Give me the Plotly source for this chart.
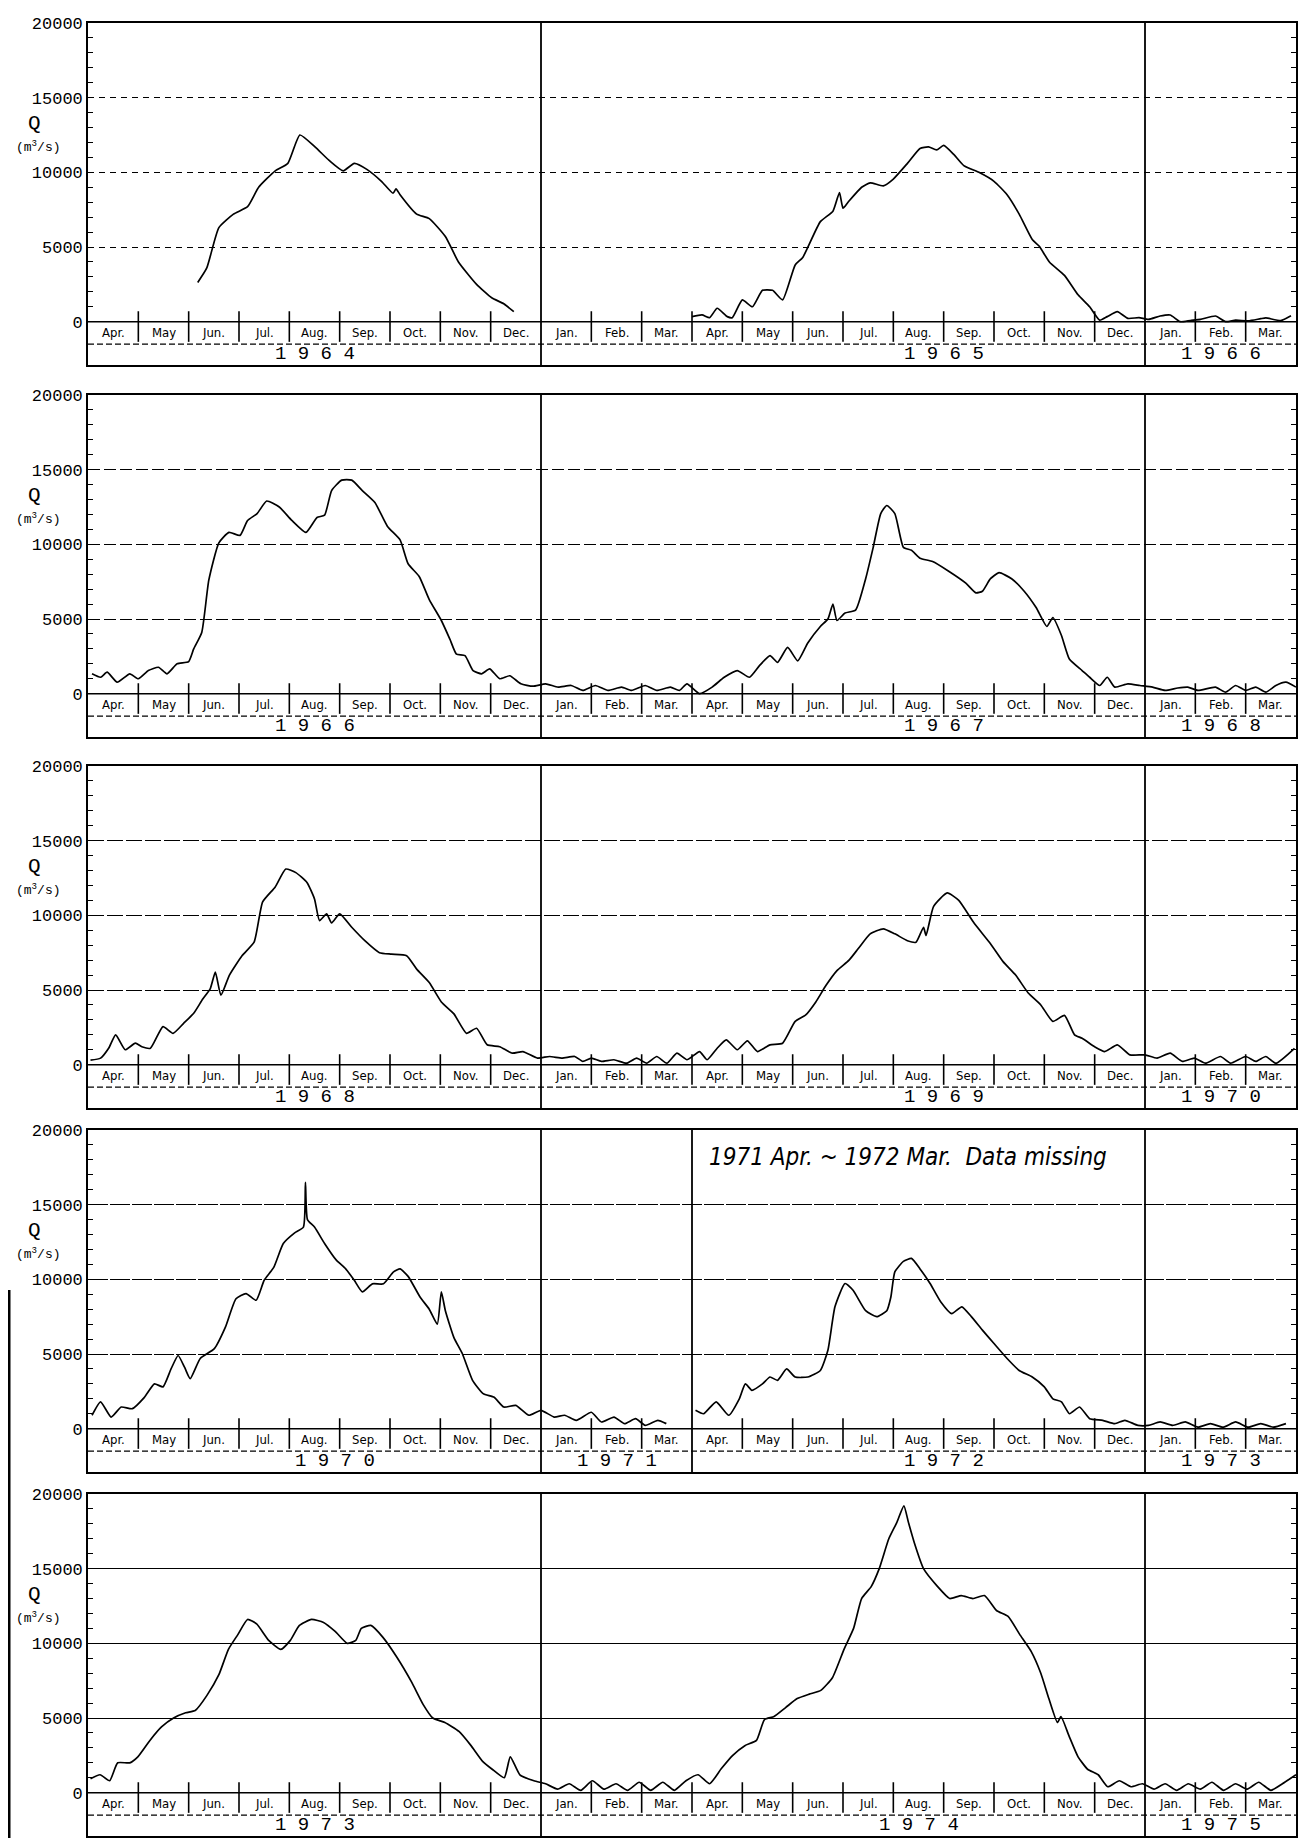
import plotly.graph_objects as go

# ---------------- DATA (month index counted from 1 April of the panel's first year) ----------------
MONTH_NAMES = ["Apr.", "May", "Jun.", "Jul.", "Aug.", "Sep.", "Oct.", "Nov.", "Dec.", "Jan.", "Feb.", "Mar."]

# Panel 1 : 1964 - 1966
p1a_month = [2.18, 2.36, 2.6, 2.89, 3.17, 3.39, 3.72, 3.97, 4.21, 4.51, 4.79, 5.07, 5.29, 5.54, 5.83,
             6.06, 6.12, 6.2, 6.53, 6.78, 7.1, 7.36, 7.72, 8.02, 8.26, 8.46]
p1a_q = [2630, 3600, 6300, 7200, 7700, 9000, 10100, 10600, 12500, 11700, 10800, 10100, 10600, 10200, 9400,
         8600, 8900, 8500, 7200, 6900, 5700, 4000, 2500, 1600, 1200, 670]
p1b_month = [12.0, 12.2, 12.35, 12.5, 12.7, 12.8, 13.0, 13.2, 13.4, 13.6, 13.8, 14.05, 14.2, 14.55, 14.8,
             14.93, 15.0, 15.1, 15.37, 15.54, 15.8, 16.0, 16.28, 16.53, 16.7, 16.86, 17.0, 17.2, 17.4, 17.7,
             18.0, 18.26, 18.5, 18.76, 18.9, 19.1, 19.4, 19.67, 19.9, 20.1, 20.25, 20.45, 20.66, 20.88,
             21.07, 21.3, 21.5, 21.7, 21.9, 22.1, 22.4, 22.6, 22.8, 23.05, 23.3, 23.4, 23.7, 23.9]
p1b_q = [340, 450, 270, 900, 340, 270, 1460, 1000, 2100, 2100, 1460, 3800, 4300, 6700, 7400,
         8650, 7600, 8000, 9000, 9300, 9100, 9550, 10600, 11600, 11700, 11500, 11800, 11200, 10450, 10000,
         9400, 8500, 7200, 5500, 5050, 4000, 3100, 1800, 1000, 100, 340, 670, 220, 270,
         150, 380, 450, 0, 80, 150, 380, 0, 100, 60, 200, 250, 80, 400]

# Panel 2 : 1966 - 1968
p2_month = [0.08, 0.25, 0.38, 0.58, 0.83, 1.0, 1.2, 1.4, 1.57, 1.77, 2.0, 2.1, 2.26, 2.4, 2.6, 2.8, 3.02,
            3.17, 3.36, 3.55, 3.8, 4.05, 4.33, 4.55, 4.7, 4.84, 5.04, 5.24, 5.45, 5.7, 5.95, 6.2, 6.36,
            6.58, 6.78, 7.02, 7.19, 7.32, 7.49, 7.65, 7.82, 7.98, 8.18, 8.38, 8.6, 8.84, 9.09, 9.34, 9.6,
            9.83, 10.08, 10.33, 10.6, 10.8, 11.07, 11.3, 11.57, 11.75, 11.9, 12.15, 12.4, 12.64, 12.9,
            13.14, 13.34, 13.55, 13.7, 13.9, 14.1, 14.3, 14.55, 14.7, 14.8, 14.88, 15.04, 15.25, 15.45,
            15.6, 15.75, 15.87, 16.03, 16.2, 16.36, 16.53, 16.78, 17.1, 17.44, 17.64, 17.77, 17.93, 18.1,
            18.35, 18.6, 18.84, 19.05, 19.17, 19.34, 19.5, 19.75, 19.9, 20.1, 20.25, 20.4, 20.66, 20.9,
            21.15, 21.4, 21.65, 21.85, 22.05, 22.4, 22.6, 22.8, 23.0, 23.2, 23.4, 23.6, 23.8, 24.0]
p2_q = [1330, 1100, 1440, 770, 1330, 1000, 1550, 1770, 1330, 2000, 2150, 3000, 4100, 7600, 10100, 10800, 10600,
        11600, 12060, 12900, 12500, 11600, 10800, 11800, 11950, 13600, 14300, 14300, 13600, 12800, 11200, 10300, 8700,
        7850, 6300, 4900, 3650, 2650, 2550, 1550, 1330, 1660, 1000, 1200, 660, 500, 660, 440, 550,
        220, 550, 220, 440, 220, 550, 220, 440, 220, 660, 0, 440, 1100, 1550,
        1100, 1880, 2550, 2100, 3100, 2200, 3400, 4500, 5000, 6000, 4900, 5400, 5600, 7700,
        9800, 12060, 12600, 12060, 9800, 9600, 9070, 8850, 8200, 7400, 6750, 6860, 7700, 8100,
        7700, 6860, 5750, 4500, 5100, 3900, 2300, 1550, 1100, 550, 1100, 440, 660, 550,
        440, 220, 380, 440, 220, 440, 100, 550, 220, 440, 100, 550, 770, 440]

# Panel 3 : 1968 - 1970
p3_month = [0.05, 0.25, 0.41, 0.55, 0.74, 0.94, 1.07, 1.24, 1.49, 1.69, 1.9, 2.1, 2.28, 2.43, 2.53, 2.64,
            2.81, 3.06, 3.3, 3.47, 3.72, 3.93, 4.13, 4.35, 4.5, 4.6, 4.74, 4.84, 5.0, 5.24, 5.5, 5.79,
            6.03, 6.33, 6.53, 6.78, 7.02, 7.27, 7.52, 7.72, 7.93, 8.18, 8.43, 8.64, 8.93, 9.17, 9.42,
            9.67, 9.83, 10.0, 10.2, 10.45, 10.7, 10.9, 11.1, 11.3, 11.5, 11.7, 11.9, 12.15, 12.3, 12.5,
            12.68, 12.9, 13.1, 13.3, 13.55, 13.8, 14.05, 14.26, 14.46, 14.66, 14.88, 15.12, 15.3, 15.54,
            15.8, 16.03, 16.28, 16.45, 16.6, 16.65, 16.8, 17.07, 17.3, 17.6, 17.93, 18.18, 18.43, 18.68,
            18.93, 19.17, 19.4, 19.6, 19.75, 20.0, 20.2, 20.45, 20.7, 21.0, 21.24, 21.5, 21.74, 21.98,
            22.2, 22.5, 22.7, 23.0, 23.2, 23.4, 23.6, 23.97]
p3_q = [300, 440, 1100, 2000, 1000, 1440, 1200, 1100, 2550, 2100, 2770, 3440, 4400, 5100, 6200, 4650,
        6000, 7300, 8200, 10900, 11900, 13100, 12860, 12200, 11100, 9650, 10100, 9500, 10100, 9200, 8300, 7500,
        7400, 7300, 6400, 5500, 4200, 3400, 2100, 2440, 1330, 1200, 770, 880, 440, 550, 440,
        550, 220, 440, 220, 330, 100, 440, 100, 550, 100, 770, 330, 880, 330, 1100,
        1660, 1000, 1600, 880, 1330, 1440, 2900, 3330, 4200, 5300, 6300, 7000, 7760, 8760,
        9100, 8760, 8300, 8200, 9200, 8650, 10600, 11500, 11000, 9500, 8100, 6900, 6000, 4800,
        4000, 2900, 3300, 2000, 1770, 1200, 880, 1330, 660, 660, 440, 770, 220, 440,
        100, 550, 100, 550, 220, 550, 100, 1100]

# Panel 4 : 1970 - 1971 and 1972 - 1973 (1971 Apr. - 1972 Mar. missing)
p4a_month = [0.08, 0.25, 0.46, 0.66, 0.88, 1.12, 1.32, 1.49, 1.65, 1.79, 1.92, 2.03, 2.23, 2.51, 2.73, 2.94,
             3.14, 3.34, 3.5, 3.69, 3.88, 4.1, 4.28, 4.32, 4.36, 4.5, 4.7, 4.93, 5.12, 5.29, 5.45, 5.65,
             5.87, 6.07, 6.2, 6.36, 6.6, 6.78, 6.94, 7.02, 7.1, 7.27, 7.44, 7.64, 7.85, 8.07, 8.26, 8.5,
             8.76, 9.0, 9.26, 9.47, 9.7, 10.0, 10.2, 10.45, 10.66, 10.88, 11.07, 11.32, 11.49]
p4a_q = [900, 1800, 780, 1450, 1340, 2100, 3000, 2800, 4000, 4900, 4100, 3350, 4700, 5360, 6800, 8700,
         9050, 8600, 9940, 10800, 12400, 13100, 13500, 16500, 14000, 13500, 12400, 11300, 10700, 9940, 9160, 9700,
         9700, 10500, 10700, 10200, 8800, 8000, 7000, 9160, 7900, 6100, 5000, 3240, 2350, 2100, 1450, 1560,
         900, 1230, 780, 900, 560, 1100, 450, 780, 340, 670, 220, 560, 340]
p4b_month = [12.07, 12.23, 12.48, 12.73, 12.94, 13.06, 13.19, 13.4, 13.55, 13.7, 13.88, 14.05, 14.3, 14.55,
             14.7, 14.84, 15.04, 15.2, 15.45, 15.67, 15.87, 15.95, 16.03, 16.2, 16.36, 16.53, 16.73, 16.94,
             17.16, 17.36, 17.55, 17.77, 18.0, 18.26, 18.5, 18.76, 19.0, 19.17, 19.34, 19.5, 19.7, 19.9,
             20.16, 20.4, 20.6, 20.86, 21.07, 21.3, 21.55, 21.8, 22.05, 22.3, 22.55, 22.8, 23.05, 23.3,
             23.55, 23.8]
p4b_q = [1230, 1000, 1800, 900, 2000, 3000, 2570, 3000, 3460, 3240, 4000, 3460, 3460, 3900,
         5250, 8160, 9720, 9270, 7900, 7500, 7900, 8800, 10500, 11200, 11400, 10700, 9720, 8500,
         7700, 8160, 7500, 6600, 5700, 4700, 3900, 3460, 2800, 2000, 1800, 1000, 1450, 670,
         560, 340, 560, 220, 220, 450, 220, 450, 100, 340, 100, 450, 100, 340,
         100, 340]

# Panel 5 : 1973 - 1975
p5_month = [0.05, 0.24, 0.43, 0.59, 0.83, 0.99, 1.23, 1.46, 1.7, 1.94, 2.13, 2.36, 2.6, 2.79, 2.98, 3.17,
            3.35, 3.59, 3.83, 4.02, 4.2, 4.44, 4.68, 4.91, 5.15, 5.32, 5.43, 5.62, 5.86, 6.14, 6.43, 6.66,
            6.85, 7.09, 7.37, 7.61, 7.84, 8.03, 8.27, 8.39, 8.58, 8.86, 9.09, 9.33, 9.56, 9.79, 10.02,
            10.25, 10.49, 10.72, 10.95, 11.18, 11.42, 11.65, 11.88, 12.12, 12.35, 12.58, 12.81, 13.05,
            13.28, 13.44, 13.63, 13.86, 14.09, 14.33, 14.56, 14.79, 15.02, 15.21, 15.37, 15.56, 15.72,
            15.91, 16.07, 16.21, 16.3, 16.42, 16.6, 16.88, 17.12, 17.35, 17.58, 17.81, 18.05, 18.28,
            18.51, 18.74, 18.93, 19.09, 19.26, 19.33, 19.49, 19.67, 19.86, 20.07, 20.26, 20.49, 20.72,
            20.95, 21.18, 21.4, 21.63, 21.86, 22.1, 22.33, 22.56, 22.8, 23.03, 23.26, 23.5, 23.73, 24.0]
p5_q = [940, 1200, 800, 2000, 2000, 2400, 3500, 4400, 5000, 5350, 5500, 6500, 7900, 9600, 10600, 11600,
        11300, 10200, 9600, 10200, 11200, 11600, 11400, 10800, 10000, 10200, 11000, 11200, 10400, 9050, 7400, 5900,
        5000, 4700, 4100, 3150, 2100, 1570, 1000, 2400, 1200, 800, 600, 240, 600, 160, 800,
        240, 600, 160, 700, 160, 700, 160, 800, 1200, 600, 1600, 2500, 3150,
        3500, 4900, 5100, 5700, 6300, 6600, 6850, 7700, 9600, 11000, 13000, 13800, 15000,
        17000, 18100, 19200, 18100, 16700, 15000, 13800, 13000, 13200, 13000, 13200, 12200, 11800,
        10600, 9450, 8000, 6300, 4700, 5100, 3800, 2400, 1570, 1200, 400, 800, 400,
        600, 240, 600, 160, 600, 240, 700, 160, 600, 240, 700, 160, 600, 1200]

PANEL_SERIES = [
    [(p1a_month, p1a_q), (p1b_month, p1b_q)],
    [(p2_month, p2_q)],
    [(p3_month, p3_q)],
    [(p4a_month, p4a_q), (p4b_month, p4b_q)],
    [(p5_month, p5_q)],
]
PANEL_YEARS = [
    [("1964", 4.5), ("1965", 17.0), ("1966", 22.5)],
    [("1966", 4.5), ("1967", 17.0), ("1968", 22.5)],
    [("1968", 4.5), ("1969", 17.0), ("1970", 22.5)],
    [("1970", 4.9), ("1971", 10.5), ("1972", 17.0), ("1973", 22.5)],
    [("1973", 4.5), ("1974", 16.5), ("1975", 22.5)],
]
PANEL_DIVIDERS = [[9, 21], [9, 21], [9, 21], [9, 12, 21], [9, 21]]
PANEL_GRIDDASH = ["6px,5px", "12px,4px", "16px,3px", "20px,2px", "solid"]
Y_TICKS = [0, 5000, 10000, 15000, 20000]

# ---------------- LAYOUT ----------------
# the page body adds an 8 px offset, so the figure is 8 px smaller than the window
FIG_W, FIG_H = 1298, 1830
ML, MR, MT, MB = 80, 10, 15, 2
PANEL_TOP_PX = [15, 387, 758, 1122, 1486]
PANEL_H_PX = 342
Y_MIN, Y_MAX = -2900, 20000
ROW_LINE = -1500
plot_w = FIG_W - ML - MR
plot_h = FIG_H - MT - MB

TICK_FONT = dict(family="Liberation Mono, DejaVu Sans Mono, monospace", size=17, color="black")
MONTH_FONT = dict(family="Liberation Sans Narrow, DejaVu Sans Condensed, Liberation Sans, sans-serif",
                  size=13, color="black")
YEAR_FONT = dict(family="Liberation Mono, DejaVu Sans Mono, monospace", size=19, color="black")
LABEL_FONT_Q = dict(family="Liberation Mono, DejaVu Sans Mono, monospace", size=21, color="black")
LABEL_FONT_U = dict(family="Liberation Mono, DejaVu Sans Mono, monospace", size=13, color="black")

fig = go.Figure()
shapes = []
annotations = []

for i in range(5):
    n = i + 1
    xa = "x" if n == 1 else f"x{n}"
    ya = "y" if n == 1 else f"y{n}"
    top = PANEL_TOP_PX[i]
    d1 = min(1.0, 1 - (top - MT) / plot_h)
    d0 = max(0.0, 1 - (top + PANEL_H_PX - MT) / plot_h)

    for mx, q in PANEL_SERIES[i]:
        fig.add_trace(go.Scatter(x=mx, y=q, mode="lines", xaxis=xa, yaxis=ya,
                                 line=dict(color="black", width=1.7, shape="spline", smoothing=0.5),
                                 showlegend=False, hoverinfo="skip"))

    fig.layout[f"xaxis{'' if n == 1 else n}"] = dict(
        domain=[0, 1], range=[0, 24], anchor=ya, showgrid=False, zeroline=False,
        showticklabels=False, ticks="", showline=True, mirror=True,
        linecolor="black", linewidth=1.6, fixedrange=True)
    fig.layout[f"yaxis{'' if n == 1 else n}"] = dict(
        domain=[d0, d1], range=[Y_MIN, Y_MAX], anchor=xa,
        tickmode="array", tickvals=Y_TICKS, ticktext=[str(v) for v in Y_TICKS],
        tickfont=TICK_FONT, ticks="inside", ticklen=5, tickcolor="black",
        showgrid=True, gridcolor="black", gridwidth=1, griddash=PANEL_GRIDDASH[i],
        zeroline=False, showline=True, mirror="ticks", linecolor="black", linewidth=1.6,
        minor=dict(tickmode="array", tickvals=[v for v in range(1000, 20000, 1000)],
                   ticks="inside", ticklen=5, tickcolor="black", showgrid=False),
        fixedrange=True)

    # zero line (top of month row) and month row lower line
    shapes.append(dict(type="line", xref=xa, yref=ya, x0=0, x1=24, y0=0, y1=0,
                       line=dict(color="black", width=1.6)))
    shapes.append(dict(type="line", xref=xa, yref=ya, x0=0, x1=24, y0=ROW_LINE, y1=ROW_LINE,
                       line=dict(color="black", width=1.2, dash="6px,3px")))
    # section dividers
    for d in PANEL_DIVIDERS[i]:
        shapes.append(dict(type="line", xref=xa, yref=ya, x0=d, x1=d, y0=Y_MIN, y1=Y_MAX,
                           line=dict(color="black", width=1.8)))
    # month ticks
    for m in range(1, 24):
        if m in PANEL_DIVIDERS[i]:
            continue
        shapes.append(dict(type="line", xref=xa, yref=ya, x0=m, x1=m, y0=-1350, y1=700,
                           line=dict(color="black", width=1.6)))
    # month labels
    for m in range(24):
        annotations.append(dict(x=m + 0.5, y=-700, xref=xa, yref=ya, text=MONTH_NAMES[m % 12],
                                showarrow=False, font=MONTH_FONT, xanchor="center", yanchor="middle"))
    # year labels
    for yr, pos in PANEL_YEARS[i]:
        annotations.append(dict(x=pos, y=-2150, xref=xa, yref=ya, text=" ".join(yr),
                                showarrow=False, font=YEAR_FONT, xanchor="center", yanchor="middle"))
    # axis title
    annotations.append(dict(x=(26 - ML) / plot_w, y=13300, xref="paper", yref=ya, text="Q",
                            showarrow=False, font=LABEL_FONT_Q, xanchor="center", yanchor="middle"))
    annotations.append(dict(x=(30 - ML) / plot_w, y=11750, xref="paper", yref=ya,
                            text="(m<sup>3</sup>/s)", showarrow=False, font=LABEL_FONT_U,
                            xanchor="center", yanchor="middle"))

# missing data note in panel 4
annotations.append(dict(x=12.3, y=18200, xref="x4", yref="y4", text="1971 Apr. ~ 1972 Mar.  Data missing",
                        showarrow=False, xanchor="left", yanchor="middle",
                        font=dict(family="Liberation Sans Narrow, DejaVu Sans Condensed, sans-serif",
                                  size=24, color="black", style="italic")))

# scan edge line on the left of the lower page
shapes.append(dict(type="line", xref="paper", yref="paper", x0=(1 - ML) / plot_w, x1=(1 - ML) / plot_w,
                   y0=1 - (1282 - MT) / plot_h, y1=-0.01, line=dict(color="black", width=3)))

fig.update_layout(width=FIG_W, height=FIG_H, margin=dict(l=ML, r=MR, t=MT, b=MB),
                  paper_bgcolor="white", plot_bgcolor="white", shapes=shapes,
                  annotations=annotations, showlegend=False)

fig.write_html("out.html")
